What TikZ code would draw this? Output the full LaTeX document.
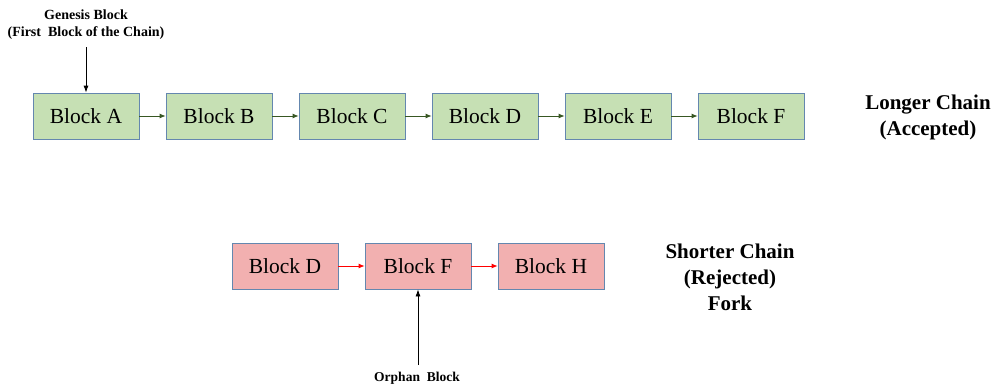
\documentclass[tikz,border=0pt]{standalone}
\usepackage{fontspec}
\setmainfont{Liberation Serif}
\usetikzlibrary{arrows.meta}
\definecolor{gfill}{RGB}{198,224,180}
\definecolor{rfill}{RGB}{242,176,176}
\definecolor{bedge}{RGB}{100,135,175}
\definecolor{garrow}{RGB}{56,87,35}
\begin{document}
\begin{tikzpicture}[x=1pt,y=-1pt,
  blk/.style={draw=bedge,line width=0.8pt,minimum width=106pt,minimum height=46pt,inner sep=0pt,font=\fontsize{21.5}{25}\selectfont},
  gblk/.style={blk,fill=gfill},
  rblk/.style={blk,fill=rfill},
  garr/.style={draw=garrow,line width=0.8pt,-{Latex[length=6pt,width=5pt]}},
  rarr/.style={draw=red,line width=0.8pt,-{Latex[length=6pt,width=5pt]}},
  karr/.style={draw=black,line width=0.8pt,-{Latex[length=7pt,width=5pt]}},
  lbl/.style={font=\bfseries\fontsize{21}{26}\selectfont,align=center,inner sep=0pt},
  small/.style={font=\bfseries\fontsize{14}{17}\selectfont,align=center,inner sep=0pt}]
\useasboundingbox[fill=white] (0,0) rectangle (996,388);
\node[gblk] (A) at (86,116) {Block A};
\node[gblk] (B) at (219,116) {Block B};
\node[gblk] (C) at (352,116) {Block C};
\node[gblk] (D) at (485,116) {Block D};
\node[gblk] (E) at (618,116) {Block E};
\node[gblk] (F) at (751,116) {Block F};
\foreach \a/\b in {A/B,B/C,C/D,D/E,E/F} \draw[garr] (\a) -- (\b);
\node[rblk] (D2) at (285,266) {Block D};
\node[rblk] (F2) at (418,266) {Block F};
\node[rblk] (H2) at (551,266) {Block H};
\draw[rarr] (D2) -- (F2);
\draw[rarr] (F2) -- (H2);
\node[small] (gen) at (86,25) {Genesis Block\\(First\ \ Block of the Chain)};
\coordinate (gs) at (86,47);
\draw[karr] (gs) -- (A.north);
\node[small,font=\bfseries\fontsize{13.5}{16}\selectfont] (orph) at (417,378) {Orphan\ \ Block};
\coordinate (os) at (418,365);
\draw[karr] (os) -- (F2.south);
\node[lbl] (long) at (928,117) {Longer Chain\\(Accepted)};
\node[lbl] (short) at (730,277) {Shorter Chain\\(Rejected)\\Fork};
\end{tikzpicture}
\end{document}
